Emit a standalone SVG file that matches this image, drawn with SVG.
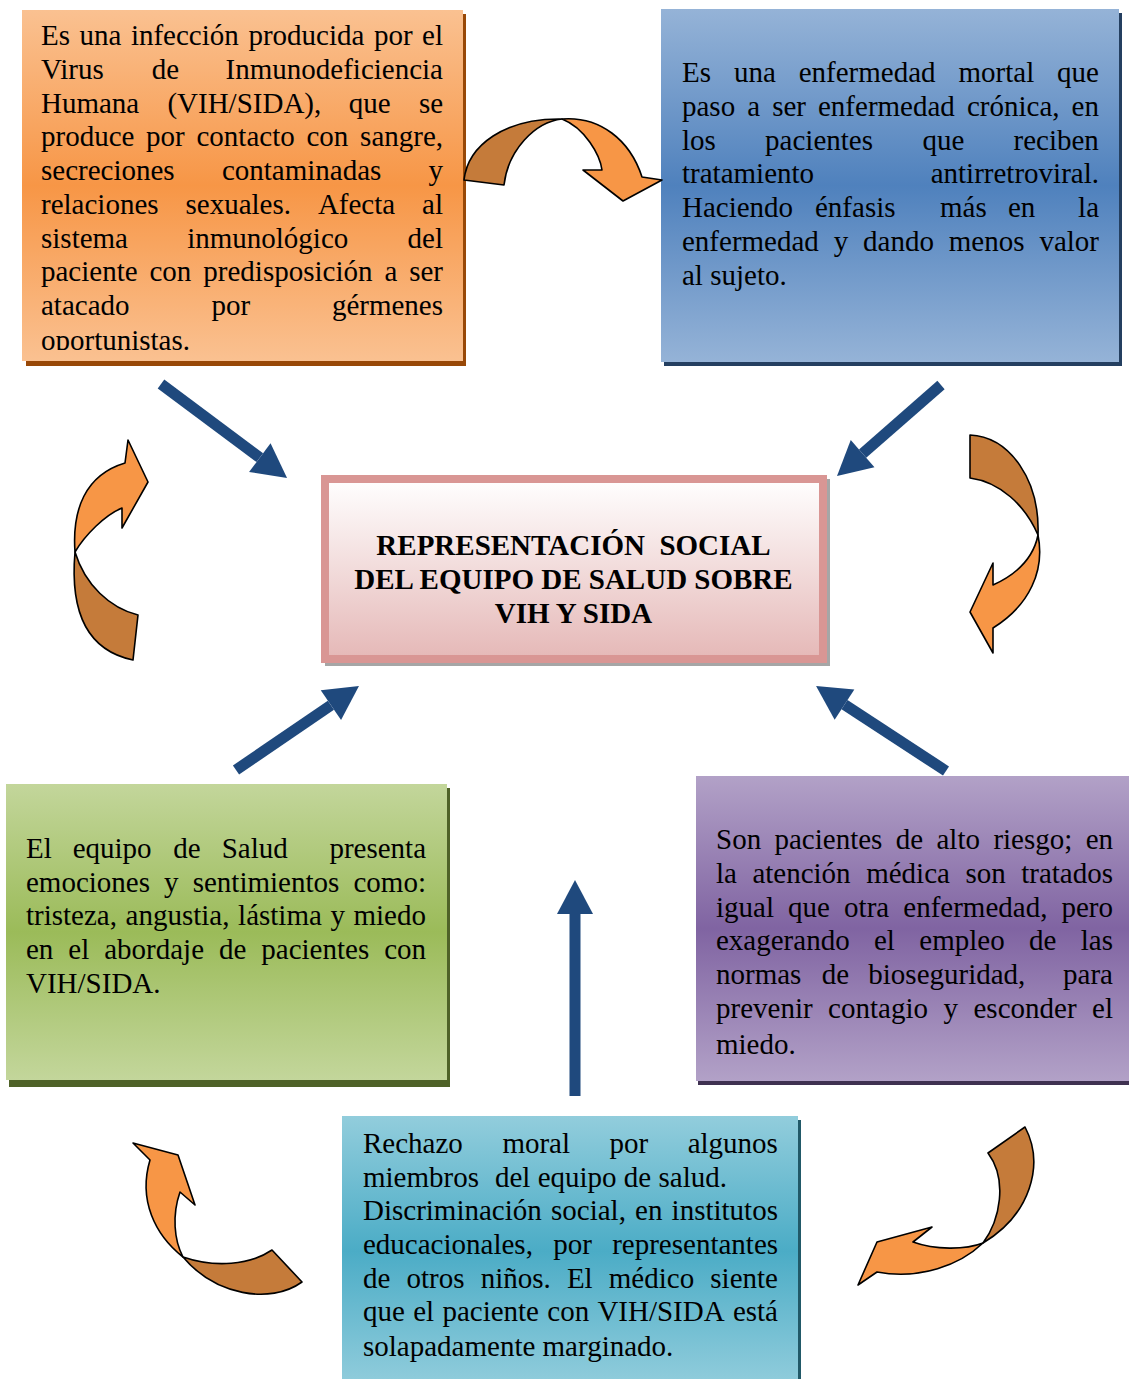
<svg xmlns="http://www.w3.org/2000/svg" width="1129" height="1379" viewBox="0 0 1129 1379">
<style>
.t{font-family:"Liberation Serif","Times New Roman",serif;font-size:29px;fill:#000}
.h{font-family:"Liberation Serif","Times New Roman",serif;font-size:29px;font-weight:bold;fill:#000;text-anchor:middle}
.blk{stroke:#1f497d;stroke-width:11;fill:none;marker-end:url(#ah)}
.cb{fill:#c57b3a;stroke:#000;stroke-width:1.6;stroke-linejoin:round}
.co{fill:#f79646;stroke:#000;stroke-width:1.6;stroke-linejoin:round}
</style>
<defs>
<linearGradient id="gO" x1="0" y1="0" x2="0" y2="1"><stop offset="0" stop-color="#fac191"/><stop offset="0.5" stop-color="#f79646"/><stop offset="1" stop-color="#fac191"/></linearGradient>
<linearGradient id="gB" x1="0" y1="0" x2="0" y2="1"><stop offset="0" stop-color="#95b3d7"/><stop offset="0.5" stop-color="#4f81bd"/><stop offset="1" stop-color="#95b3d7"/></linearGradient>
<linearGradient id="gG" x1="0" y1="0" x2="0" y2="1"><stop offset="0" stop-color="#c3d69b"/><stop offset="0.5" stop-color="#9bbb59"/><stop offset="1" stop-color="#c3d69b"/></linearGradient>
<linearGradient id="gP" x1="0" y1="0" x2="0" y2="1"><stop offset="0" stop-color="#b2a1c7"/><stop offset="0.5" stop-color="#8064a2"/><stop offset="1" stop-color="#b2a1c7"/></linearGradient>
<linearGradient id="gC" x1="0" y1="0" x2="0" y2="1"><stop offset="0" stop-color="#92cddc"/><stop offset="0.5" stop-color="#4bacc6"/><stop offset="1" stop-color="#92cddc"/></linearGradient>
<linearGradient id="gR" x1="0" y1="0" x2="0" y2="1"><stop offset="0" stop-color="#ffffff"/><stop offset="1" stop-color="#e5b8b7"/></linearGradient>
<clipPath id="clipO"><rect x="22" y="10" width="441" height="340"/></clipPath>
<marker id="ah" markerUnits="userSpaceOnUse" markerWidth="34" markerHeight="36" viewBox="0 0 34 36" refX="0" refY="18" orient="auto" overflow="visible"><path d="M0,0 L34,18 L0,36 Z" fill="#1f497d"/></marker>
</defs>

<g id="node-infeccion">
<rect x="26" y="14" width="440" height="352" fill="#984807"/>
<rect x="22" y="10" width="441" height="351" fill="url(#gO)"/>
<g clip-path="url(#clipO)">
<text class="t" y="45"><tspan x="41">Es</tspan><tspan x="79.5">una</tspan><tspan x="130.9">infección</tspan><tspan x="248.4">producida</tspan><tspan x="373.9">por</tspan><tspan x="422.1">el</tspan></text>
<text class="t" y="79"><tspan x="41">Virus</tspan><tspan x="151.8">de</tspan><tspan x="225.6">Inmunodeficiencia</tspan></text>
<text class="t" y="113"><tspan x="41">Humana</tspan><tspan x="167.4">(VIH/SIDA),</tspan><tspan x="348.8">que</tspan><tspan x="418.9">se</tspan></text>
<text class="t" y="146"><tspan x="41">produce</tspan><tspan x="146.1">por</tspan><tspan x="196.5">contacto</tspan><tspan x="306.5">con</tspan><tspan x="360.1">sangre,</tspan></text>
<text class="t" y="180"><tspan x="41">secreciones</tspan><tspan x="221.9">contaminadas</tspan><tspan x="428.5">y</tspan></text>
<text class="t" y="214"><tspan x="41">relaciones</tspan><tspan x="185.5">sexuales.</tspan><tspan x="317.9">Afecta</tspan><tspan x="422.1">al</tspan></text>
<text class="t" y="248"><tspan x="41">sistema</tspan><tspan x="187.2">inmunológico</tspan><tspan x="407.6">del</tspan></text>
<text class="t" y="281"><tspan x="41">paciente</tspan><tspan x="149.5">con</tspan><tspan x="203.3">predisposición</tspan><tspan x="384.4">a</tspan><tspan x="409.2">ser</tspan></text>
<text class="t" y="315"><tspan x="41">atacado</tspan><tspan x="211.4">por</tspan><tspan x="331.9">gérmenes</tspan></text>
<text class="t" y="350" x="41">oportunistas.</text>
</g>
</g>

<g id="node-cronica">
<rect x="664" y="13" width="458" height="353" fill="#243f60"/>
<rect x="661" y="9" width="458" height="353" fill="url(#gB)"/>
<text class="t" y="82"><tspan x="682">Es</tspan><tspan x="733.9">una</tspan><tspan x="798.7">enfermedad</tspan><tspan x="958.5">mortal</tspan><tspan x="1057.1">que</tspan></text>
<text class="t" y="116"><tspan x="682">paso</tspan><tspan x="747.2">a</tspan><tspan x="772.2">ser</tspan><tspan x="818">enfermedad</tspan><tspan x="967">crónica,</tspan><tspan x="1071.6">en</tspan></text>
<text class="t" y="150"><tspan x="682">los</tspan><tspan x="765.1">pacientes</tspan><tspan x="922.4">que</tspan><tspan x="1013.5">reciben</tspan></text>
<text class="t" y="183"><tspan x="682">tratamiento</tspan><tspan x="930.7">antirretroviral.</tspan></text>
<text class="t" y="217"><tspan x="682">Haciendo</tspan><tspan x="815">énfasis</tspan><tspan x="940">más</tspan><tspan x="1008">en</tspan><tspan x="1078.1">la</tspan></text>
<text class="t" y="251"><tspan x="682">enfermedad</tspan><tspan x="833.7">y</tspan><tspan x="863.1">dando</tspan><tspan x="948.8">menos</tspan><tspan x="1039.4">valor</tspan></text>
<text class="t" y="285" x="682">al sujeto.</text>
</g>

<g id="node-central">
<rect x="325" y="479" width="505" height="187" fill="#a6a6a6"/>
<rect x="325" y="479" width="498" height="180" fill="url(#gR)" stroke="#d99694" stroke-width="8"/>
<text class="h" x="573.5" y="555">REPRESENTACIÓN&#160; SOCIAL</text>
<text class="h" x="573.5" y="589">DEL EQUIPO DE SALUD SOBRE</text>
<text class="h" x="573.5" y="623">VIH Y SIDA</text>
</g>

<g id="node-emociones">
<rect x="9" y="788" width="441" height="299" fill="#4f6228"/>
<rect x="6" y="784" width="441" height="296" fill="url(#gG)"/>
<text class="t" y="858"><tspan x="26">El</tspan><tspan x="72.7">equipo</tspan><tspan x="173.3">de</tspan><tspan x="221.7">Salud</tspan><tspan x="329.4">presenta</tspan></text>
<text class="t" y="892"><tspan x="26">emociones</tspan><tspan x="164.1">y</tspan><tspan x="192.7">sentimientos</tspan><tspan x="353.5">como:</tspan></text>
<text class="t" y="925"><tspan x="26">tristeza,</tspan><tspan x="125.6">angustia,</tspan><tspan x="238.1">lástima</tspan><tspan x="330.4">y</tspan><tspan x="353.5">miedo</tspan></text>
<text class="t" y="959"><tspan x="26">en</tspan><tspan x="68.3">el</tspan><tspan x="104.2">abordaje</tspan><tspan x="219">de</tspan><tspan x="261.3">pacientes</tspan><tspan x="384.2">con</tspan></text>
<text class="t" y="993" x="26">VIH/SIDA.</text>
</g>

<g id="node-riesgo">
<rect x="698" y="780" width="434" height="305" fill="#3f3151"/>
<rect x="696" y="776" width="433" height="305" fill="url(#gP)"/>
<text class="t" y="849"><tspan x="716">Son</tspan><tspan x="774.5">pacientes</tspan><tspan x="895.8">de</tspan><tspan x="936.5">alto</tspan><tspan x="993.4">riesgo;</tspan><tspan x="1085.7">en</tspan></text>
<text class="t" y="883"><tspan x="716">la</tspan><tspan x="752.4">atención</tspan><tspan x="866.2">médica</tspan><tspan x="965.4">son</tspan><tspan x="1021.2">tratados</tspan></text>
<text class="t" y="917"><tspan x="716">igual</tspan><tspan x="788.1">que</tspan><tspan x="844.1">otra</tspan><tspan x="903.3">enfermedad,</tspan><tspan x="1061.5">pero</tspan></text>
<text class="t" y="950"><tspan x="716">exagerando</tspan><tspan x="874">el</tspan><tspan x="919.3">empleo</tspan><tspan x="1029">de</tspan><tspan x="1080.8">las</tspan></text>
<text class="t" y="984"><tspan x="716">normas</tspan><tspan x="821.7">de</tspan><tspan x="868.3">bioseguridad,</tspan><tspan x="1063.1">para</tspan></text>
<text class="t" y="1018"><tspan x="716">prevenir</tspan><tspan x="828.1">contagio</tspan><tspan x="943.5">y</tspan><tspan x="973.5">esconder</tspan><tspan x="1092.1">el</tspan></text>
<text class="t" y="1054" x="716">miedo.</text>
</g>

<g id="node-rechazo">
<rect x="345" y="1120" width="456" height="270" fill="#215968"/>
<rect x="342" y="1116" width="456" height="270" fill="url(#gC)"/>
<text class="t" y="1153"><tspan x="363">Rechazo</tspan><tspan x="502.4">moral</tspan><tspan x="609.5">por</tspan><tspan x="687.7">algunos</tspan></text>
<text class="t" y="1187"><tspan x="363">miembros</tspan><tspan x="495">del equipo de salud.</tspan></text>
<text class="t" y="1220"><tspan x="363">Discriminación</tspan><tspan x="551">social,</tspan><tspan x="635.1">en</tspan><tspan x="671.6">institutos</tspan></text>
<text class="t" y="1254"><tspan x="363">educacionales,</tspan><tspan x="553.2">por</tspan><tspan x="612.2">representantes</tspan></text>
<text class="t" y="1288"><tspan x="363">de</tspan><tspan x="406.5">otros</tspan><tspan x="480.7">niños.</tspan><tspan x="566.9">El</tspan><tspan x="608.8">médico</tspan><tspan x="710.3">siente</tspan></text>
<text class="t" y="1321"><tspan x="363">que</tspan><tspan x="413.2">el</tspan><tspan x="442.4">paciente</tspan><tspan x="547.3">con</tspan><tspan x="597.4">VIH/SIDA</tspan><tspan x="732.9">está</tspan></text>
<text class="t" y="1356" x="363">solapadamente marginado.</text>
</g>

<g id="connectors">
<line class="blk" x1="161" y1="384" x2="259.8" y2="457.6"/>
<line class="blk" x1="941" y1="385" x2="862.6" y2="453.6"/>
<line class="blk" x1="236" y1="770" x2="330.9" y2="705.2"/>
<line class="blk" x1="946" y1="771" x2="844.5" y2="704.6"/>
<line class="blk" x1="575" y1="1096" x2="575" y2="914"/>

<g id="curve-top">
<path class="cb" d="M464,180 C468,145 505,118 562,119 C535,122 508,150 504,185 Z"/>
<path class="co" d="M562,119 C600,116 630,140 642,177 L662,180 L623,201 L583,170 L602,170 C600,155 585,128 562,119 Z"/>
</g>
<g id="curve-right">
<path class="cb" d="M970,435 C1010,437 1040,480 1038,535 C1025,505 1000,482 970,478 Z"/>
<path class="co" d="M1038,535 C1045,570 1030,605 993,628 L993,653 L970,612 L993,563 L993,585 C1015,575 1033,560 1038,535 Z"/>
</g>
<g id="curve-left">
<path class="cb" d="M75,552 C70,610 85,650 133,660 L138,615 C110,608 85,585 75,552 Z"/>
<path class="co" d="M125,463 L128,440 L148,482 L122,528 L122,508 C105,515 85,535 75,552 C72,510 85,475 125,463 Z"/>
</g>
<g id="curve-bottom-left">
<path class="cb" d="M183,1257 C215,1295 270,1305 302,1282 L272,1250 C250,1265 215,1268 183,1257 Z"/>
<path class="co" d="M150,1160 L133,1143 L178,1155 L195,1205 L180,1192 C172,1215 174,1240 183,1257 C155,1235 138,1200 150,1160 Z"/>
</g>
<g id="curve-bottom-right">
<path class="cb" d="M1025,1127 C1045,1165 1030,1215 983,1243 C1000,1220 1008,1180 988,1153 Z"/>
<path class="co" d="M983,1243 C960,1265 920,1280 877,1272 L858,1285 L877,1242 L932,1227 L913,1242 C935,1250 965,1250 983,1243 Z"/>
</g>
</g>
</svg>
